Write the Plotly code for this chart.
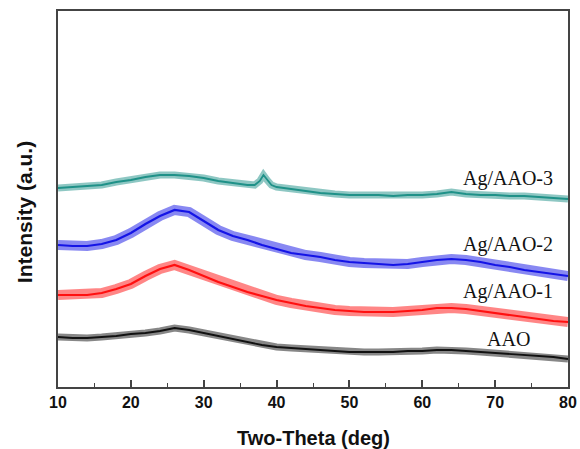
import plotly.graph_objects as go

# 2-theta grid (deg) for the three smooth curves
theta = [10, 12, 14, 16, 18, 20, 22, 24, 26, 28, 30, 32, 34, 36, 38, 40, 42, 44,
         46, 48, 50, 52, 54, 56, 58, 60, 62, 64, 66, 68, 70, 72, 74, 76, 78, 80]

aao = [50, 49, 49, 50, 51, 53, 54, 56, 59, 57, 54, 51, 48, 45, 42, 40, 39, 38,
       37, 36, 35, 35, 35, 35, 36, 36, 37, 37, 36, 35, 34, 33, 32, 31, 30, 28]
ag1 = [92, 92, 92, 94, 98, 103, 111, 118, 122, 117, 111, 105, 100, 95, 91, 87, 84, 81,
       79, 77, 76, 75, 75, 75, 76, 77, 79, 79, 78, 76, 74, 72, 70, 68, 66, 65]
ag2 = [142, 141, 141, 143, 147, 154, 163, 171, 177, 175, 166, 157, 151, 147, 142, 138, 134, 132,
       130, 127, 125, 124, 123, 122, 123, 125, 127, 128, 127, 125, 122, 120, 117, 115, 113, 111]

# Ag/AAO-3 has a small Ag(111) reflection near 38 deg
theta3 = [10, 12, 14, 16, 18, 20, 22, 24, 26, 28, 30, 32, 34, 36, 37, 37.7, 38.2, 38.7, 39.3,
          40, 42, 44, 46, 48, 50, 52, 54, 56, 58, 60, 62, 64, 66, 68, 70, 72, 74, 76, 78, 80]
ag3 = [199, 200, 201, 202, 205, 207, 210, 212, 212, 211, 209, 206, 204, 202, 202, 206, 212, 207, 202,
       200, 198, 196, 194, 193, 192, 192, 192, 191, 192, 192, 193, 195, 193, 192, 192, 191, 191, 190, 189, 188]

labels = ["AAO", "Ag/AAO-1", "Ag/AAO-2", "Ag/AAO-3"]
label_x = [71.8, 71.8, 71.8, 71.8]
label_y = [48, 96, 143, 209]

series = [
    (theta, aao, "#111111", 7, 1.8),
    (theta, ag1, "#ff1010", 10, 2.2),
    (theta, ag2, "#1414e6", 10, 2.2),
    (theta3, ag3, "#1f9188", 7, 1.8),
]

fig = go.Figure()
for (xs, ys, col, wfuzz, wcore), name in zip(series, labels):
    fig.add_trace(go.Scatter(x=xs, y=ys, mode="lines", line=dict(color=col, width=wfuzz),
                             opacity=0.5, showlegend=False, hoverinfo="skip"))
    fig.add_trace(go.Scatter(x=xs, y=ys, mode="lines", line=dict(color=col, width=wcore),
                             name=name, showlegend=False))

for t, xv, yv in zip(labels, label_x, label_y):
    fig.add_annotation(x=xv, y=yv, xref="x", yref="y", text=t, showarrow=False,
                       xanchor="center", yanchor="middle",
                       font=dict(family="Liberation Serif, Times New Roman, serif", size=20, color="#111"))

fig.add_annotation(x=0.5, y=-0.1356, xref="paper", yref="paper", text="Two-Theta (deg)",
                   showarrow=False, xanchor="center", yanchor="middle",
                   font=dict(family="Liberation Sans, Arial, sans-serif", size=20, color="#111", weight="bold"))
fig.add_annotation(x=-0.0667, y=0.465, xref="paper", yref="paper", text="Intensity (a.u.)",
                   showarrow=False, xanchor="center", yanchor="middle", textangle=-90,
                   font=dict(family="Liberation Sans, Arial, sans-serif", size=21, color="#111", weight="bold"))

fig.update_layout(
    width=580, height=449,
    margin=dict(l=58, r=12, t=11, b=62),
    paper_bgcolor="white", plot_bgcolor="white",
    xaxis=dict(range=[10, 80], dtick=10, tick0=10, ticks="inside", ticklen=7, tickwidth=1.5,
               tickcolor="#444", showline=True, linecolor="#444", linewidth=1.8, mirror=True,
               showgrid=False, zeroline=False, automargin=False,
               tickfont=dict(family="Liberation Sans, Arial, sans-serif", size=16, color="#111", weight="bold"),
               minor=dict(dtick=5, tick0=10, ticks="inside", ticklen=4, tickwidth=1.2, tickcolor="#444")),
    yaxis=dict(range=[0, 376], showticklabels=False, ticks="", showline=True, linecolor="#444",
               linewidth=1.8, mirror=True, showgrid=False, zeroline=False, automargin=False),
)

fig.write_html("out.html")
